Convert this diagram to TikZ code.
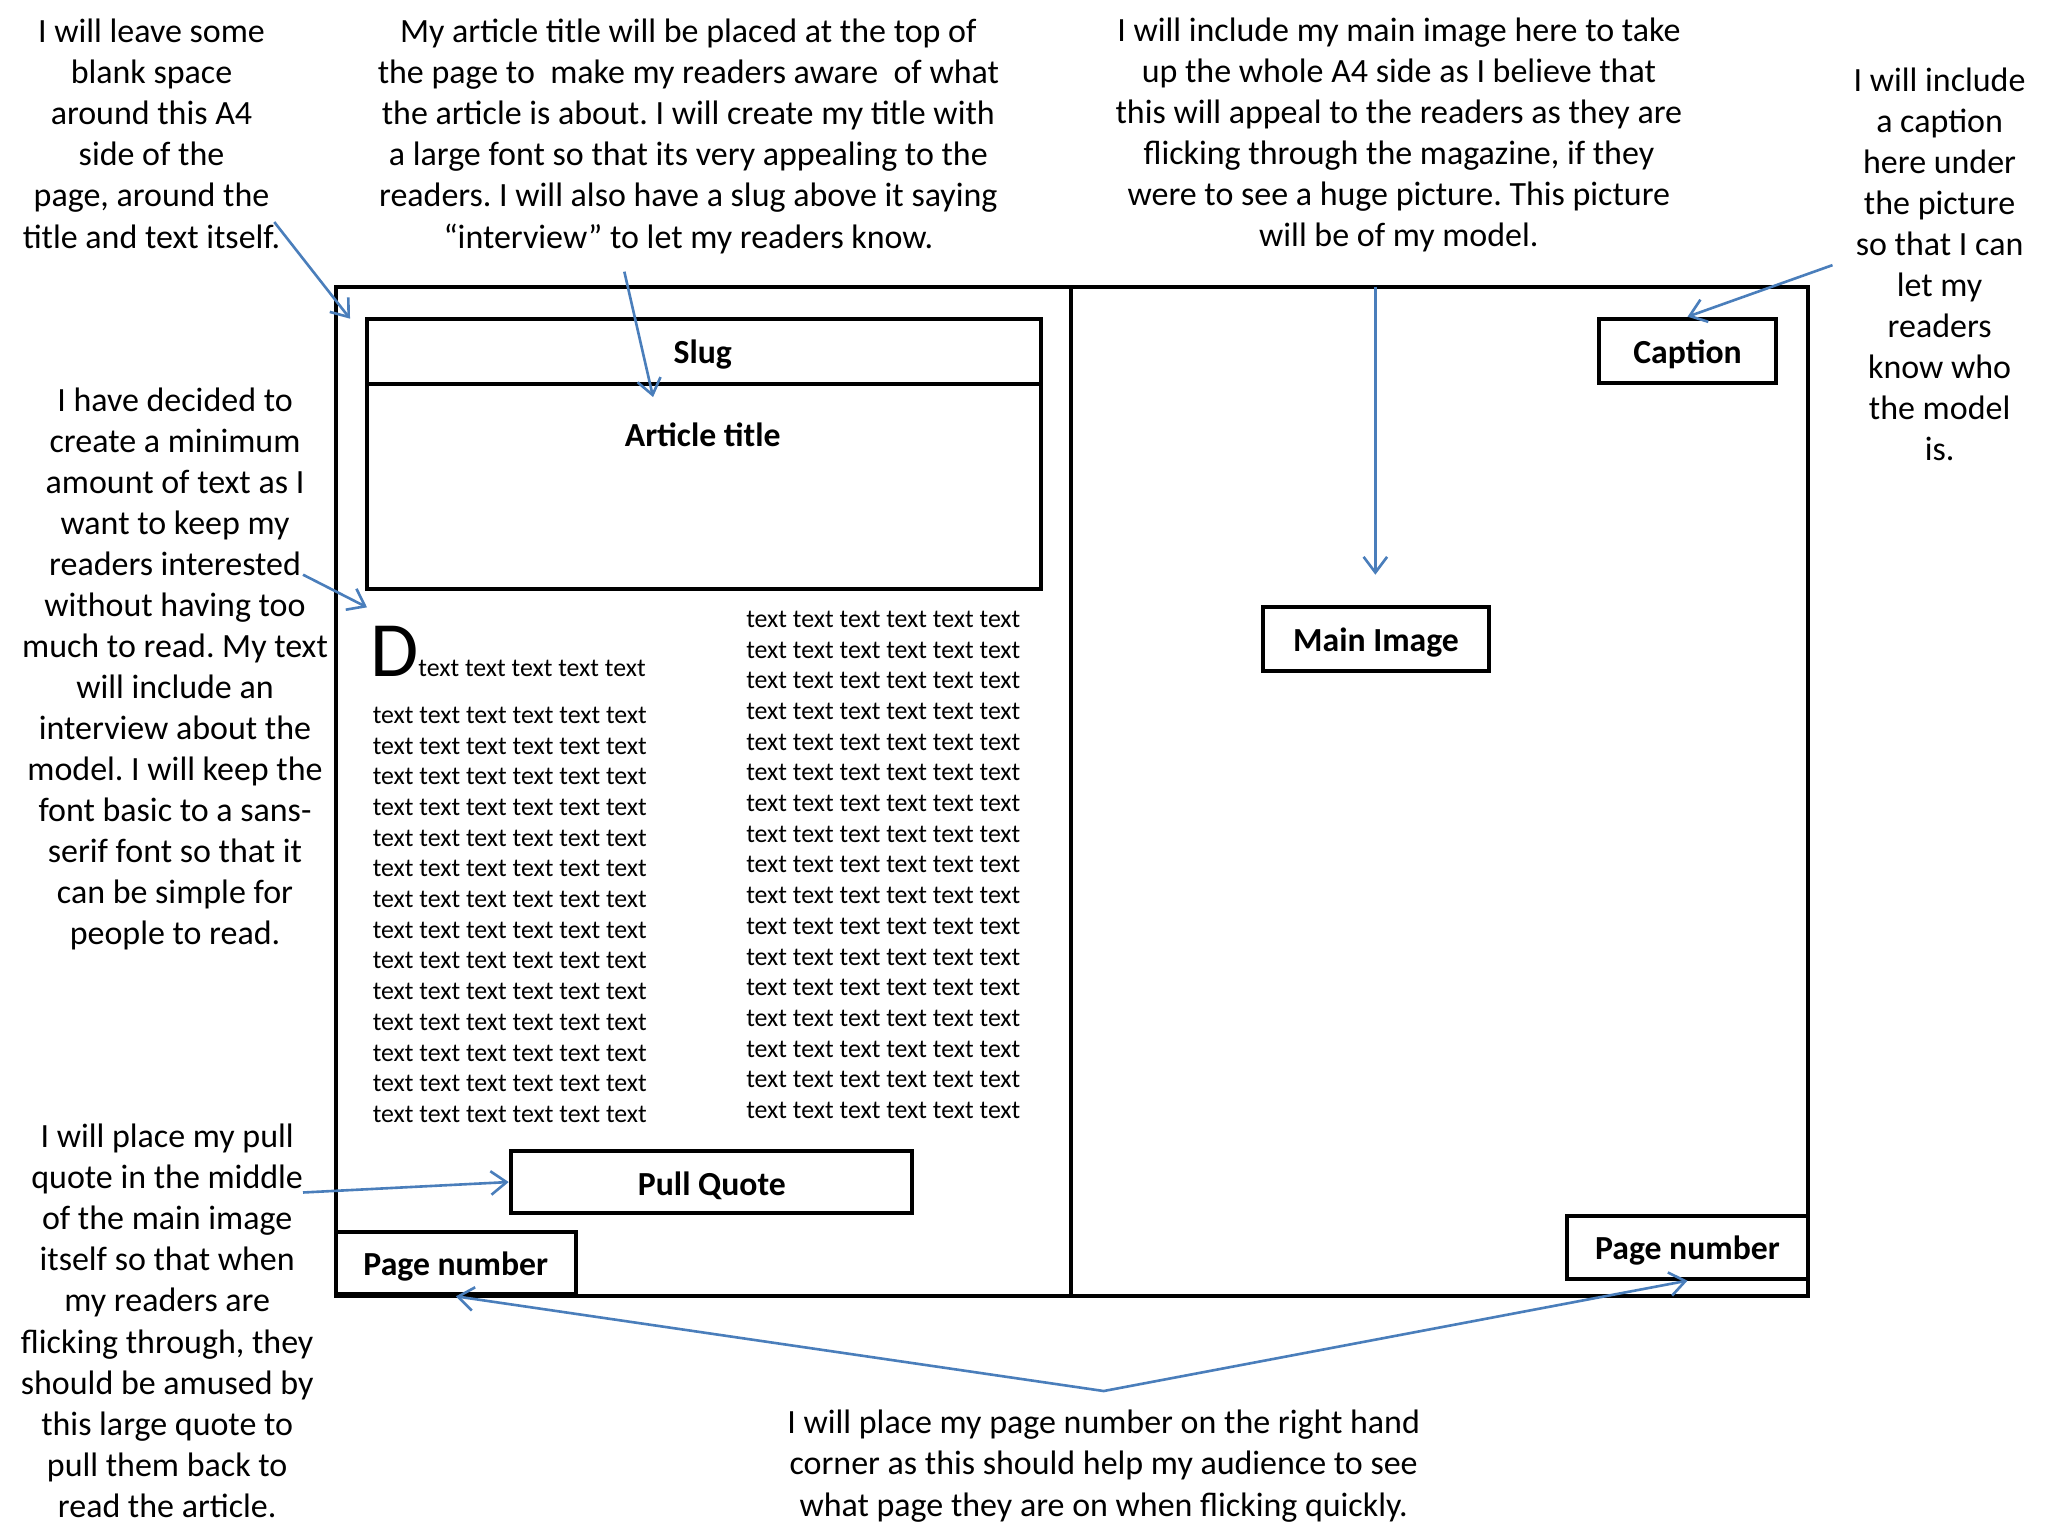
\documentclass[tikz,border=0pt]{standalone}
\usepackage{fontspec}
\setmainfont{Carlito}
\usetikzlibrary{arrows.meta}
\definecolor{arrowblue}{RGB}{74,126,187}
\frenchspacing
\begin{document}
\begin{tikzpicture}[x=0.5pt,y=-0.5pt,
  notetext/.style={anchor=north, align=center, inner sep=0pt, font=\frenchspacing\fontsize{13}{15.7}\selectfont},
  pagebox/.style={draw, line width=1.5pt, inner sep=0pt},
  elbox/.style={draw, line width=1.5pt, inner sep=0pt, text depth=0pt, font=\bfseries\fontsize{12.9}{15.7}\selectfont},
  boldtext/.style={inner sep=0pt, font=\bfseries\fontsize{12.9}{15.7}\selectfont},
  bodytext/.style={anchor=north west, align=left, inner sep=0pt, font=\fontsize{9.9}{11.75}\selectfont},
  pointer/.style={draw=arrowblue, line width=1pt, -{Straight Barb[length=6pt,width=9pt]}},
  dpointer/.style={draw=arrowblue, line width=1pt, {Straight Barb[length=6pt,width=9pt]}-{Straight Barb[length=6pt,width=9pt]}, line join=miter}
]
\fill[white] (0,0) rectangle (1568,1176);
\useasboundingbox (0,0) rectangle (1568,1176);

% page halves
\node[pagebox, minimum width=281.5pt, minimum height=386pt] (leftpage) at (538.5,606) {};
\node[pagebox, minimum width=282pt, minimum height=386pt] (rightpage) at (1102,606) {};

% element boxes
\node[pagebox, minimum width=258pt, minimum height=25pt] (slug) at (539,269) {};
\node[boldtext] (sluglabel) at (538,271.5) {Slug};
\node[pagebox, minimum width=258pt, minimum height=78.5pt] (titlebox) at (539,372.5) {};
\node[boldtext] (titlelabel) at (538,333) {Article title};
\node[pagebox, minimum width=68pt, minimum height=24.5pt] (caption) at (1292,268.5) {};
\node[boldtext] (captionlabel) at (1292,271) {Caption};
\node[pagebox, minimum width=86.5pt, minimum height=24.5pt] (mainimg) at (1053.5,489.5) {};
\node[boldtext] (mainimglabel) at (1053.5,492) {Main Image};
\node[pagebox, minimum width=153.5pt, minimum height=24pt] (pullquote) at (544.5,905) {};
\node[boldtext] (pullquotelabel) at (545,908) {Pull Quote};
\node[pagebox, minimum width=92pt, minimum height=24pt] (pnleft) at (349,967) {};
\node[boldtext] (pnleftlabel) at (349,969.5) {Page number};
\node[pagebox, minimum width=92pt, minimum height=24pt] (pnright) at (1292,955) {};
\node[boldtext] (pnrightlabel) at (1292,957.5) {Page number};

% body text
\node[anchor=base west, inner sep=0pt, font=\fontsize{9.9}{11.75}\selectfont] (dropcap) at (283,518)
  {{\fontsize{30}{32}\selectfont D}text text text text text};
\node[bodytext] (leftcol) at (285,537) {\strut text text text text text text\\
text text text text text text\\ text text text text text text\\ text text text text text text\\
text text text text text text\\ text text text text text text\\ text text text text text text\\
text text text text text text\\ text text text text text text\\ text text text text text text\\
text text text text text text\\ text text text text text text\\ text text text text text text\\
text text text text text text};
\node[bodytext] (rightcol) at (571,463.5) {\strut text text text text text text\\
text text text text text text\\ text text text text text text\\ text text text text text text\\
text text text text text text\\ text text text text text text\\ text text text text text text\\
text text text text text text\\ text text text text text text\\ text text text text text text\\
text text text text text text\\ text text text text text text\\ text text text text text text\\
text text text text text text\\ text text text text text text\\ text text text text text text\\
text text text text text text};

% annotations
\node[notetext] (noteA) at (116,10.5) {\strut I will leave some\\ blank space\\ around this A4\\ side of the\\ page, around the\\ title and text itself.};
\node[notetext] (noteB) at (527,10.5) {\strut My article title will be placed at the top of\\ the page to\ \ make my readers aware\ \ of what\\ the article is about. I will create my title with\\ a large font so that its very appealing to the\\ readers. I will also have a slug above it saying\\ “interview” to let my readers know.};
\node[notetext] (noteC) at (1071,9.5) {\strut I will include my main image here to take\\ up the whole A4 side as I believe that\\ this will appeal to the readers as they are\\ flicking through the magazine, if they\\ were to see a huge picture. This picture\\ will be of my model.};
\node[notetext] (noteD) at (1485,47.5) {\strut I will include\\ a caption\\ here under\\ the picture\\ so that I can\\ let my\\ readers\\ know who\\ the model\\ is.};
\node[notetext] (noteE) at (134,292.5) {\strut I have decided to\\ create a minimum\\ amount of text as I\\ want to keep my\\ readers interested\\ without having too\\ much to read. My text\\ will include an\\ interview about the\\ model. I will keep the\\ font basic to a sans-\\ serif font so that it\\ can be simple for\\ people to read.};
\node[notetext] (noteF) at (128,856.5) {\strut I will place my pull\\ quote in the middle\\ of the main image\\ itself so that when\\ my readers are\\ flicking through, they\\ should be amused by\\ this large quote to\\ pull them back to\\ read the article.};
\node[notetext] (noteG) at (845,1075.5) {\strut I will place my page number on the right hand\\ corner as this should help my audience to see\\ what page they are on when flicking quickly.};

% arrow anchor points
\coordinate (tA) at (210,170);
\coordinate (hA) at (268,244);
\coordinate (tB) at (478,208);
\coordinate (hB) at (500,304);
\coordinate (tC) at (1053,220);
\coordinate (hC) at (1053,440);
\coordinate (tD) at (1403,203);
\coordinate (tE) at (232,440);
\coordinate (hE) at (281,465);
\coordinate (tF) at (232,913);
\coordinate (apex) at (845,1065);

% arrows
\draw[pointer] (tA) -- (hA);
\draw[pointer] (tB) -- (hB);
\draw[pointer] (tC) -- (hC);
\draw[pointer] (tD) -- (caption.north);
\draw[pointer] (tE) -- (hE);
\draw[pointer] (tF) -- (pullquote.west);
\draw[dpointer] (pnleft.south) -- (apex) -- (pnright.south);
\end{tikzpicture}
\end{document}
